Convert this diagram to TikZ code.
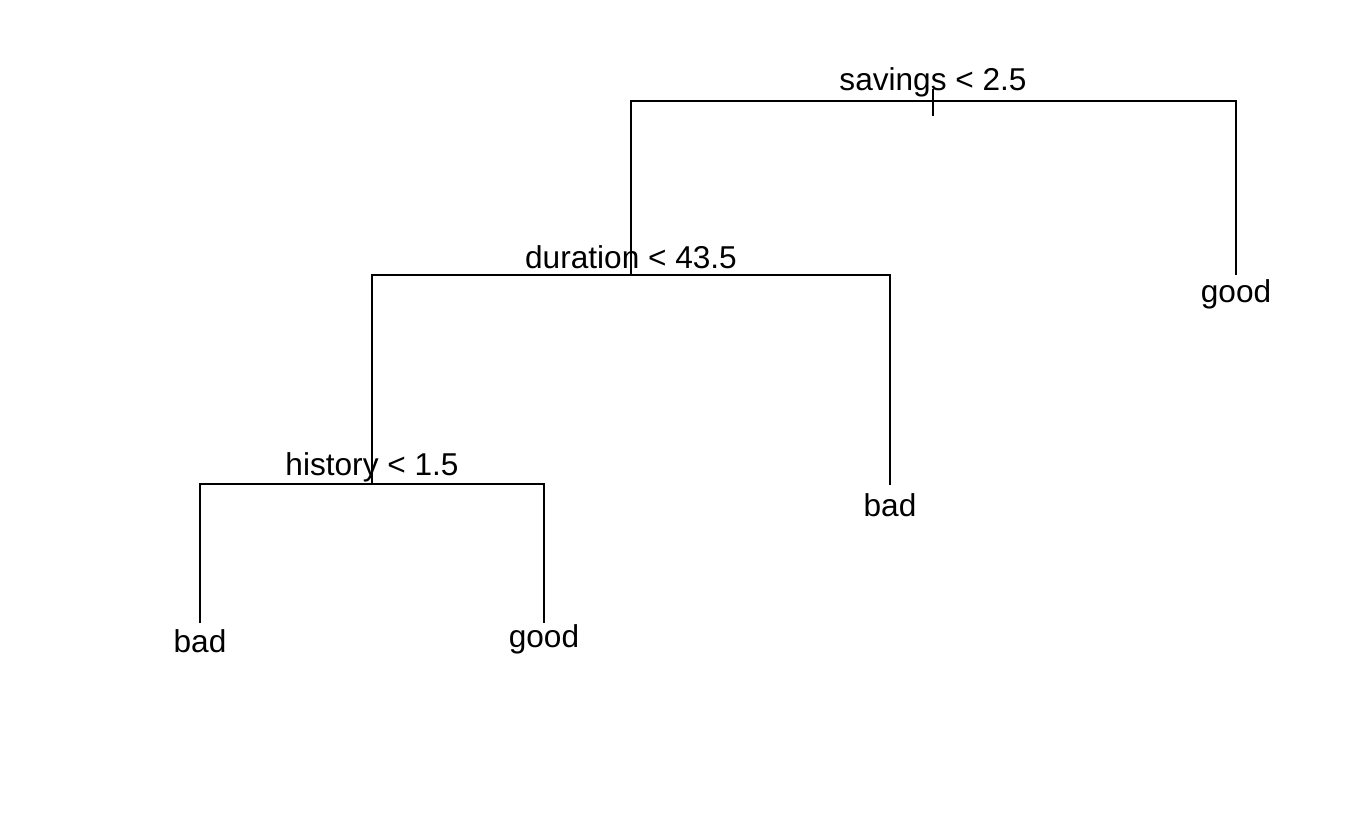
\documentclass[tikz,border=0pt]{standalone}
\usepackage{fontspec}
\setmainfont{Liberation Sans}
\begin{document}
\begin{tikzpicture}[x=0.5pt,y=-0.5pt,
  edge/.style={line width=1pt,line cap=butt},
  lbl/.style={anchor=base,inner sep=0pt,font=\fontsize{15.8}{18}\selectfont}]
\useasboundingbox[fill=white] (0,0) rectangle (1358,839);
% split points
\coordinate (root) at (933,101);
\coordinate (rtop) at (933,89);
\coordinate (rbot) at (933,116);
\coordinate (rL) at (631,101);
\coordinate (rR) at (1236,101);
\coordinate (dur) at (631,275);
\coordinate (dL) at (372,275);
\coordinate (dR) at (890,275);
\coordinate (good1) at (1236,275);
\coordinate (hist) at (372,484);
\coordinate (hL) at (200,484);
\coordinate (hR) at (544,484);
\coordinate (bad1) at (890,485);
\coordinate (bad2) at (200,623);
\coordinate (good2) at (544,623);
% edges
\draw[edge] (rtop) -- (rbot);
\draw[edge] (dur) -- (rL) -- (rR) -- (good1);
\draw[edge] (hist) -- (dL) -- (dR) -- (bad1);
\draw[edge] (bad2) -- (hL) -- (hR) -- (good2);
% labels
\node[lbl] (savings) at (933,91) {savings < 2.5};
\node[lbl] (duration) at (631,269) {duration < 43.5};
\node[lbl] (history) at (372,475) {history < 1.5};
\node[lbl] (lgood1) at (1236,303) {good};
\node[lbl] (lbad1) at (890,516) {bad};
\node[lbl] (lbad2) at (200,652) {bad};
\node[lbl] (lgood2) at (544,647) {good};
\end{tikzpicture}
\end{document}
